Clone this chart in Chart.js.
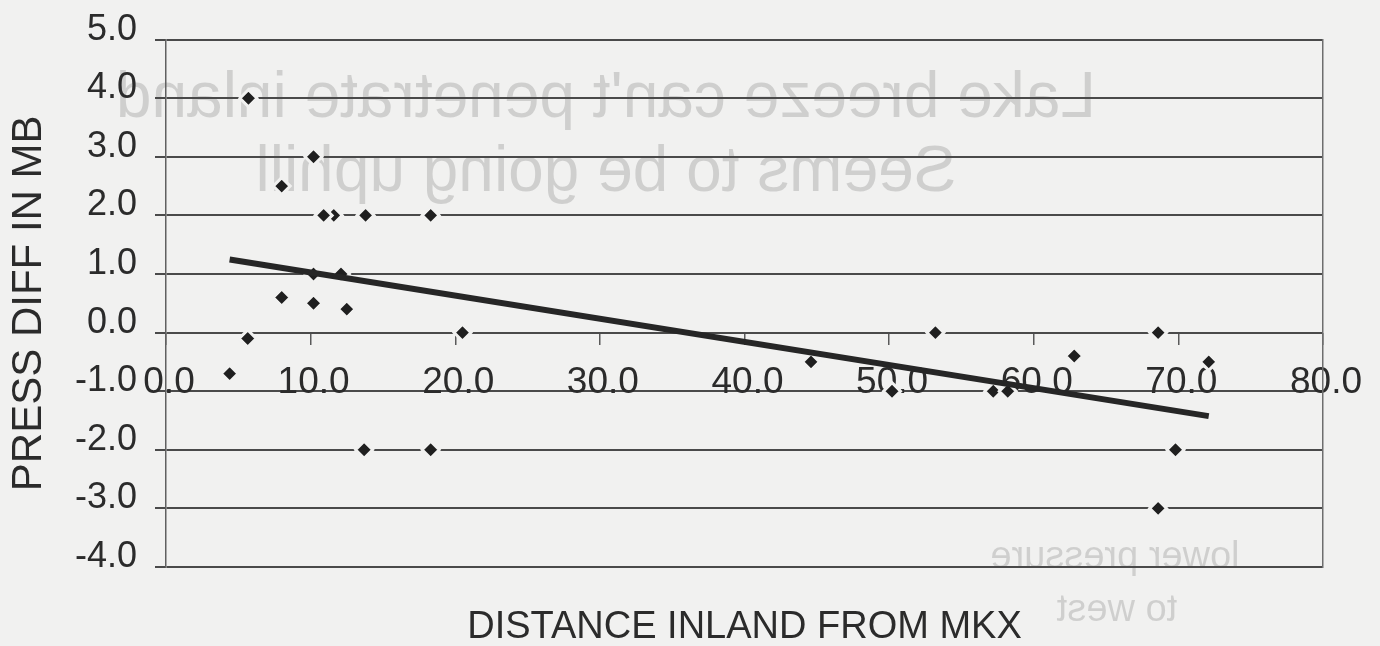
<!DOCTYPE html>
<html>
<head>
<meta charset="utf-8">
<title>Press diff vs distance inland</title>
<script src="https://cdn.jsdelivr.net/npm/chart.js@4.4.1/dist/chart.umd.min.js"></script>
<style>
  html, body { margin: 0; padding: 0; background: #f1f1f0; }
  #wrap { width: 1380px; height: 646px; }
  canvas { display: block; }
</style>
</head>
<body>
<div id="wrap"><canvas id="chart" width="1380" height="646"></canvas></div>
<script>
// Station distance inland from MKX and pressure difference (mb)
const distanceInland = [5.7, 10.2, 8.0, 11.6, 10.9, 13.8, 18.3, 10.2, 12.1, 8.0, 10.2, 12.5, 5.65, 20.5, 4.4,
  13.7, 18.3, 44.6, 50.2, 53.2, 68.6, 62.8, 72.1, 57.2, 58.2, 69.8, 68.6];
const pressDiff = [4.0, 3.0, 2.5, 2.0, 2.0, 2.0, 2.0, 1.0, 1.0, 0.6, 0.5, 0.4, -0.1, 0.0, -0.7,
  -2.0, -2.0, -0.5, -1.0, 0.0, 0.0, -0.4, -0.5, -1.0, -1.0, -2.0, -3.0];

const xTickValues = [0, 10, 20, 30, 40, 50, 60, 70, 80];
const yTickValues = [-4, -3, -2, -1, 0, 1, 2, 3, 4, 5];

const xAxisTitle = 'DISTANCE INLAND FROM MKX';
const yAxisTitle = 'PRESS DIFF IN MB';
const noteLines = ["Lake breeze can't penetrate inland", 'Seems to be going uphill'];
const sideNoteLines = ['lower pressure', 'to west'];

const PAPER = '#f1f1f0';
const INK = '#2b2b2b';
const SANS = '"Liberation Sans", Arial, Helvetica, sans-serif';

// Use the narrow face for the horizontal axis text when it is installed
function fontAvailable(family) {
  const c = document.createElement('canvas').getContext('2d');
  const probe = 'DISTANCE INLAND 0123456789';
  c.font = '40px monospace';
  const base = c.measureText(probe).width;
  c.font = '40px "' + family + '", monospace';
  return Math.abs(c.measureText(probe).width - base) > 0.5;
}
const hasNarrow = fontAvailable('Liberation Sans Narrow');
const X_FAMILY = hasNarrow ? '"Liberation Sans Narrow", ' + SANS : SANS;
const X_TICK_SIZE = hasNarrow ? 43 : 37;
const X_TICK_PAD = hasNarrow ? 13 : 16;
const X_TITLE_SIZE = hasNarrow ? 46 : 38;

// Ordinary least-squares line through the points
function leastSquares(xs, ys) {
  const n = xs.length;
  const mx = xs.reduce((a, b) => a + b, 0) / n;
  const my = ys.reduce((a, b) => a + b, 0) / n;
  let sxy = 0, sxx = 0;
  for (let i = 0; i < n; i++) {
    sxy += (xs[i] - mx) * (ys[i] - my);
    sxx += (xs[i] - mx) * (xs[i] - mx);
  }
  const slope = sxy / sxx;
  return { slope, intercept: my - slope * mx };
}
const fit = leastSquares(distanceInland, pressDiff);
const xLo = Math.min(...distanceInland);
const xHi = Math.max(...distanceInland);
const trendPoints = [xLo, xHi].map(x => ({ x, y: fit.intercept + fit.slope * x }));

const points = distanceInland.map((x, i) => ({ x, y: pressDiff[i] }));

// Paper fill plus the faint mirrored writing from the back of the sheet
const paperPlugin = {
  id: 'paper',
  beforeDraw(chart) {
    const ctx = chart.ctx;
    ctx.save();
    ctx.fillStyle = PAPER;
    ctx.fillRect(0, 0, chart.width, chart.height);
    ctx.fillStyle = 'rgba(0,0,0,0.14)';
    ctx.textAlign = 'center';
    ctx.textBaseline = 'alphabetic';
    const mirrored = (text, cx, y, size) => {
      ctx.save();
      ctx.font = size + 'px ' + SANS;
      ctx.translate(cx, y);
      ctx.scale(-1, 1);
      ctx.fillText(text, 0, 0);
      ctx.restore();
    };
    mirrored(noteLines[0], 606, 117, 64);
    mirrored(noteLines[1], 606, 191, 64);
    mirrored(sideNoteLines[0], 1115, 568, 38);
    mirrored(sideNoteLines[1], 1117, 621, 38);
    ctx.restore();
  }
};

const oneDecimal = v => Number(v).toFixed(1);

new Chart(document.getElementById('chart'), {
  type: 'scatter',
  data: {
    datasets: [
      {
        label: 'Trend',
        type: 'line',
        data: trendPoints,
        xAxisID: 'x',
        yAxisID: 'y',
        borderColor: '#262626',
        borderWidth: 6,
        pointRadius: 0,
        fill: false,
        order: 0
      },
      {
        label: 'Press diff',
        data: points,
        xAxisID: 'x',
        yAxisID: 'y',
        showLine: false,
        pointStyle: 'rectRot',
        pointRadius: 8.5,
        pointBackgroundColor: '#1f1f1f',
        pointBorderColor: PAPER,
        pointBorderWidth: 3,
        order: 1
      }
    ]
  },
  options: {
    responsive: false,
    animation: false,
    layout: { padding: { top: 38, left: 0, right: 0, bottom: 0 } },
    plugins: {
      legend: { display: false },
      tooltip: { enabled: false }
    },
    scales: {
      x: {
        type: 'linear',
        position: { y: 0 },
        min: 0,
        max: 80,
        afterBuildTicks: s => { s.ticks = xTickValues.map(value => ({ value })); },
        grid: {
          display: true,
          drawOnChartArea: false,
          drawTicks: true,
          tickLength: 12,
          color: '#5a5a5a',
          lineWidth: 1.5
        },
        border: { display: false },
        ticks: {
          color: INK,
          padding: X_TICK_PAD,
          labelOffset: 3,
          maxRotation: 0,
          autoSkip: false,
          font: { family: X_FAMILY, size: X_TICK_SIZE },
          callback: oneDecimal
        }
      },
      x2: {
        type: 'linear',
        position: 'bottom',
        min: 0,
        max: 80,
        grid: { display: false, drawTicks: false },
        border: { display: false },
        ticks: { display: false },
        title: {
          display: true,
          text: xAxisTitle,
          color: INK,
          padding: 0,
          font: { family: X_FAMILY, size: X_TITLE_SIZE, lineHeight: '36px' }
        },
        afterFit: s => { s.height = 79; }
      },
      y: {
        type: 'linear',
        position: 'left',
        min: -4,
        max: 5,
        afterBuildTicks: s => { s.ticks = yTickValues.map(value => ({ value })); },
        grid: {
          display: true,
          drawOnChartArea: true,
          drawTicks: true,
          tickLength: 11,
          color: '#4a4a4a',
          lineWidth: 2
        },
        border: { display: true, color: '#606060', width: 1.5 },
        ticks: {
          color: INK,
          padding: 18,
          labelOffset: -10,
          autoSkip: false,
          font: { family: SANS, size: 36 },
          callback: oneDecimal
        },
        title: {
          display: true,
          text: yAxisTitle,
          color: INK,
          padding: { top: 4, bottom: 0 },
          font: { family: SANS, size: 42 }
        },
        afterFit: s => { s.width = 166; }
      },
      y2: {
        type: 'linear',
        position: 'right',
        min: -4,
        max: 5,
        grid: { display: true, drawOnChartArea: false, drawTicks: false },
        border: { display: true, color: '#6e6e6e', width: 1.5 },
        ticks: { display: false },
        afterFit: s => { s.width = 57; }
      }
    }
  },
  plugins: [paperPlugin]
});
</script>
</body>
</html>
